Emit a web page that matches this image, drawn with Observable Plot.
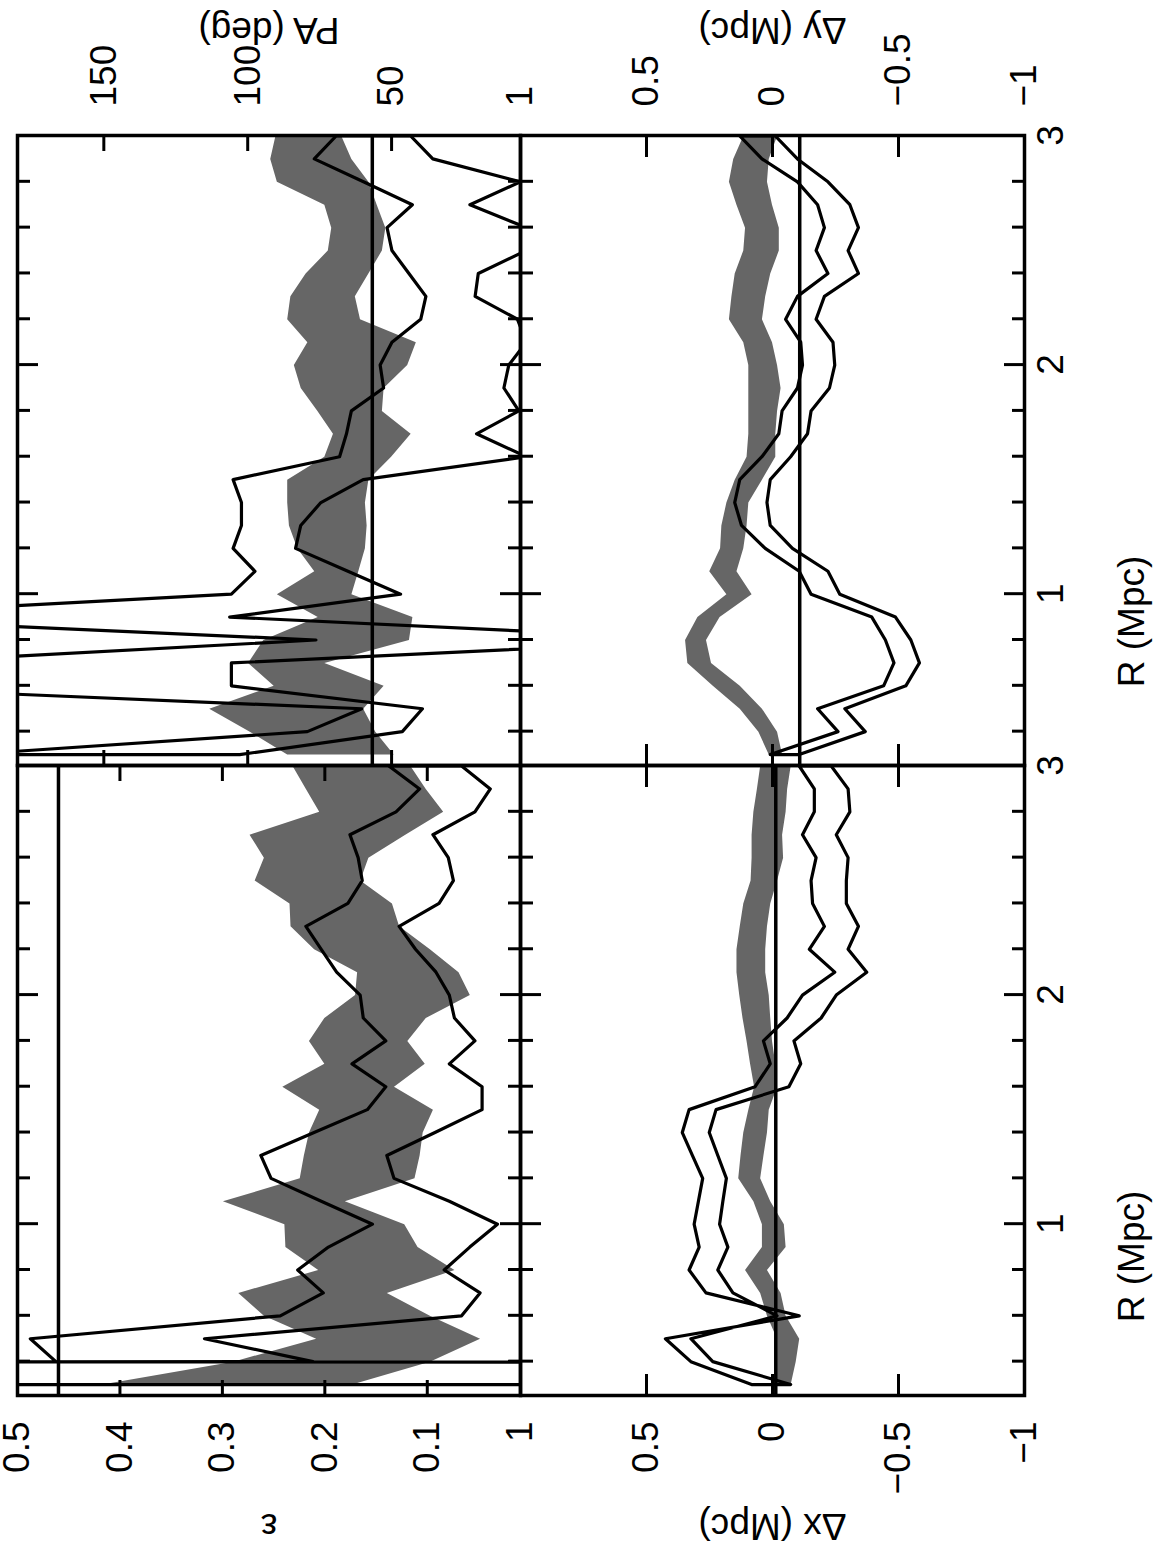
<!DOCTYPE html>
<html><head><meta charset="utf-8">
<script src="https://cdn.jsdelivr.net/npm/d3@7"></script>
<script src="https://cdn.jsdelivr.net/npm/@observablehq/plot@0.6"></script>
<style>
html,body{margin:0;padding:0;background:#fff;overflow:hidden;width:1161px;height:1557px}
#fig{position:absolute;left:0;top:0;width:1557px;height:1161px;transform-origin:0 0;transform:translate(0px,1557px) rotate(-90deg);}
</style></head><body><div id="fig"></div>
<script>
// Radius grid (Mpc)
const R = [0.3,0.4,0.5,0.6,0.7,0.8,0.9,1.0,1.1,1.2,1.3,1.4,1.5,1.6,1.7,1.8,1.9,2.0,2.1,2.2,2.3,2.4,2.5,2.6,2.7,2.8,2.9,3.0];

// Ellipticity
const epsBandHi = [0.417,0.289,0.208,0.259,0.284,0.206,0.238,0.239,0.299,0.224,0.220,0.215,0.205,0.241,0.200,0.215,0.200,0.170,0.168,0.210,0.233,0.234,0.268,0.259,0.273,0.205,0.218,0.231];
const epsBandLo = [0.173,0.097,0.048,0.097,0.139,0.073,0.109,0.122,0.180,0.112,0.107,0.104,0.094,0.132,0.102,0.119,0.101,0.058,0.069,0.097,0.127,0.134,0.165,0.157,0.121,0.084,0.101,0.116];
const epsEnvA = [-20,0.462,0.487,0.243,0.201,0.226,0.196,0.153,0.203,0.252,0.262,0.210,0.158,0.140,0.173,0.140,0.162,0.165,0.188,0.203,0.218,0.177,0.163,0.167,0.175,0.130,0.107,0.137];
const epsEnvB = [20,0.211,0.317,0.066,0.048,0.083,0.058,0.031,0.078,0.132,0.139,0.092,0.046,0.046,0.078,0.053,0.073,0.078,0.091,0.111,0.127,0.088,0.074,0.079,0.094,0.053,0.038,0.066];
const epsRef = 0.46;

// Position angle (deg)
const paBandHi = [86.1,99.1,113.2,90.8,99.7,94.4,75.5,89.7,76.7,82.6,85.5,86.1,86.1,73.2,70.2,75.6,81.4,83.8,79.1,86.1,85.0,79.7,72.0,70.8,73.2,89.7,92.0,90.2];
const paBandLo = [49.1,55.5,59.7,52.6,73.2,43.8,42.6,63.8,61.4,59.1,58.5,59.1,57.9,50.0,43.2,53.2,52.6,44.4,41.4,60.8,62.6,57.9,53.2,52.0,55.0,57.9,63.8,67.3];
const paEnvA = [197,79.1,60.2,250,223,76.1,254,105.5,97.3,104.9,102.0,102.0,104.9,67.9,65.5,63.8,52.6,53.8,49.7,39.7,37.9,43.8,49.7,51.4,42.6,59.6,76.7,69.1];
const paEnvB = [102.6,46.1,39.1,105.5,105.5,-61,106.1,46.7,65.0,83.2,81.4,74.4,59.7,3,20.3,5.6,10.8,9.1,3,6.1,20.8,19.7,3,3,22.6,5,35.5,43.2];
const paRef = 56.7;

// Centroid shift x (Mpc)
const dxBandHi = [-0.020,-0.020,-0.020,0.020,0.047,0.107,0.040,0.040,0.074,0.134,0.125,0.114,0.094,0.071,0.087,0.101,0.117,0.130,0.141,0.141,0.128,0.114,0.085,0.081,0.081,0.074,0.060,0.047];
const dxBandLo = [-0.074,-0.094,-0.108,-0.054,-0.034,0.020,-0.054,-0.047,0.007,0.047,0.034,0.020,0.013,-0.020,-0.013,0.000,0.007,0.013,0.027,0.027,0.020,0.007,-0.020,-0.044,-0.040,-0.054,-0.060,-0.074];
const dxEnvA = [0.081,0.322,0.423,-0.108,0.262,0.329,0.289,0.309,0.292,0.275,0.316,0.356,0.329,0.067,0.007,0.034,-0.060,-0.121,-0.249,-0.148,-0.208,-0.161,-0.155,-0.175,-0.121,-0.168,-0.168,-0.108];
const dxEnvB = [-0.074,0.235,0.322,-0.020,0.155,0.215,0.175,0.208,0.195,0.181,0.215,0.249,0.222,-0.067,-0.114,-0.087,-0.195,-0.255,-0.376,-0.302,-0.343,-0.295,-0.295,-0.302,-0.255,-0.309,-0.302,-0.235];
const dxRef = -0.013;

// Centroid shift y (Mpc)
const dyBandHi = [0.013,0.054,0.128,0.235,0.336,0.345,0.296,0.181,0.249,0.206,0.201,0.181,0.148,0.101,0.094,0.094,0.094,0.094,0.114,0.171,0.161,0.148,0.114,0.107,0.141,0.171,0.154,0.114];
const dyBandLo = [-0.040,-0.020,0.040,0.128,0.242,0.262,0.208,0.081,0.141,0.114,0.101,0.094,0.040,-0.013,-0.013,-0.020,-0.034,-0.020,0.000,0.040,0.027,0.007,-0.027,-0.027,0.000,0.020,0.013,-0.020];
const dyEnvA = [0.007,-0.262,-0.181,-0.443,-0.484,-0.450,-0.396,-0.155,-0.108,0.027,0.121,0.148,0.128,0.040,-0.027,-0.040,-0.101,-0.121,-0.114,-0.054,-0.101,-0.222,-0.175,-0.208,-0.181,-0.101,0.040,0.128];
const dyEnvB = [-0.108,-0.370,-0.289,-0.531,-0.585,-0.551,-0.490,-0.269,-0.222,-0.081,0.007,0.020,0.007,-0.074,-0.141,-0.155,-0.228,-0.249,-0.242,-0.175,-0.208,-0.343,-0.302,-0.343,-0.309,-0.222,-0.101,-0.013];
const dyRef = -0.108;

// Ticks and labels
const rMajor = [1, 2, 3];
const rMinor = [0.4,0.6,0.8,1.2,1.4,1.6,1.8,2.2,2.4,2.6,2.8];
const epsTicks = [0.1,0.2,0.3,0.4,0.5];
const paTicks = [50,100,150];
const dTicks = [-1,-0.5,0,0.5,1];
const rDomain = [0.25, 3];
const epsDomain = [0.009, 0.5];
const paDomain = [5.2, 180];
const dDomain = [-1, 1];

const GREY = "#666666";
const FONT = 37;
const fmt = d => (d < 0 ? "\u2212" : "") + Math.abs(d);

function makePanel(cfg) {
  const M = {top: 30, right: 150, bottom: 130, left: 170};
  const rows = R.map((r, i) => ({R: r, lo: cfg.lo[i], hi: cfg.hi[i], a: cfg.a[i], b: cfg.b[i]}));
  const inner = cfg.ticks.filter(t => t > cfg.domain[0] && t < cfg.domain[1]);
  const marks = [
    Plot.areaY(rows, {x: "R", y1: "lo", y2: "hi", fill: GREY, clip: true}),
    Plot.areaY(rows, {x: "R", y1: "b", y2: "a", fill: "none", stroke: "black", strokeWidth: 3.2, clip: true}),
    Plot.ruleY([cfg.ref], {stroke: "black", strokeWidth: 3.5}),
    Plot.axisY(inner, {anchor: "left", tickSize: cfg.tl, dx: cfg.tl, fill: "none", strokeWidth: 3}),
    Plot.axisY(inner, {anchor: "right", tickSize: cfg.tl, dx: -cfg.tl, fill: "none", strokeWidth: 3}),
    Plot.axisX(rMinor, {anchor: "bottom", tickSize: 12, dy: -12, fill: "none", strokeWidth: 3}),
    Plot.axisX(rMinor, {anchor: "top", tickSize: 12, dy: 12, fill: "none", strokeWidth: 3}),
    Plot.axisX([1, 2], {anchor: "bottom", tickSize: 20, dy: -20, fill: "none", strokeWidth: 3}),
    Plot.axisX([1, 2], {anchor: "top", tickSize: 20, dy: 20, fill: "none", strokeWidth: 3}),
    Plot.axisY(cfg.ticks, {anchor: cfg.side, tickSize: 0, tickPadding: cfg.pad, tickFormat: fmt, fontSize: FONT, label: null}),
    Plot.text([cfg.title], {frameAnchor: cfg.side, dx: cfg.side === "left" ? -130 : 106, rotate: -90,
      textAnchor: "middle", lineAnchor: "middle", fontSize: FONT, ariaLabel: "axis-title"}),
    Plot.frame({stroke: "black", strokeWidth: 3.5})
  ];
  if (cfg.rLabels) {
    marks.push(
      Plot.axisX(rMajor, {anchor: "bottom", tickSize: 0, tickPadding: 12, tickFormat: fmt, fontSize: FONT, label: null}),
      Plot.text(["R (Mpc)"], {frameAnchor: "bottom", dx: cfg.rdx, dy: 108, textAnchor: "middle", lineAnchor: "middle", fontSize: FONT})
    );
  }
  const svg = Plot.plot({
    width: cfg.w + M.left + M.right,
    height: cfg.h + M.top + M.bottom,
    marginTop: M.top, marginRight: M.right, marginBottom: M.bottom, marginLeft: M.left,
    x: {domain: rDomain},
    y: {domain: cfg.domain},
    style: {fontFamily: "'Liberation Sans', Arial, sans-serif", fontSize: FONT + "px", color: "black", background: "transparent", overflow: "visible"},
    marks
  });
  Object.assign(svg.style, {position: "absolute", left: (cfg.u0 - M.left) + "px", top: (cfg.v0 - M.top) + "px", maxWidth: "none"});
  d3.select(svg).selectAll('g[aria-label="axis-title"] text, text[aria-label="axis-title"]').attr("letter-spacing", "4px");
  document.getElementById("fig").appendChild(svg);
}

makePanel({u0: 161, v0: 17, w: 630, h: 503, domain: epsDomain, lo: epsBandLo, hi: epsBandHi, a: epsEnvA, b: epsEnvB, ref: epsRef,
  ticks: epsTicks, tl: 16, side: "left", pad: 26, title: "\u03b5"});
makePanel({u0: 791, v0: 17, w: 630, h: 503, domain: paDomain, lo: paBandLo, hi: paBandHi, a: paEnvA, b: paEnvB, ref: paRef,
  ticks: paTicks, tl: 16, side: "right", pad: 29, title: "PA (deg)"});
makePanel({u0: 161, v0: 520, w: 630, h: 504, domain: dDomain, lo: dxBandLo, hi: dxBandHi, a: dxEnvA, b: dxEnvB, ref: dxRef,
  ticks: dTicks, tl: 22, side: "left", pad: 26, title: "\u0394x (Mpc)", rLabels: true, rdx: -176});
makePanel({u0: 791, v0: 520, w: 630, h: 504, domain: dDomain, lo: dyBandLo, hi: dyBandHi, a: dyEnvA, b: dyEnvB, ref: dyRef,
  ticks: dTicks, tl: 22, side: "right", pad: 29, title: "\u0394y (Mpc)", rLabels: true, rdx: -171});
</script></body></html>
